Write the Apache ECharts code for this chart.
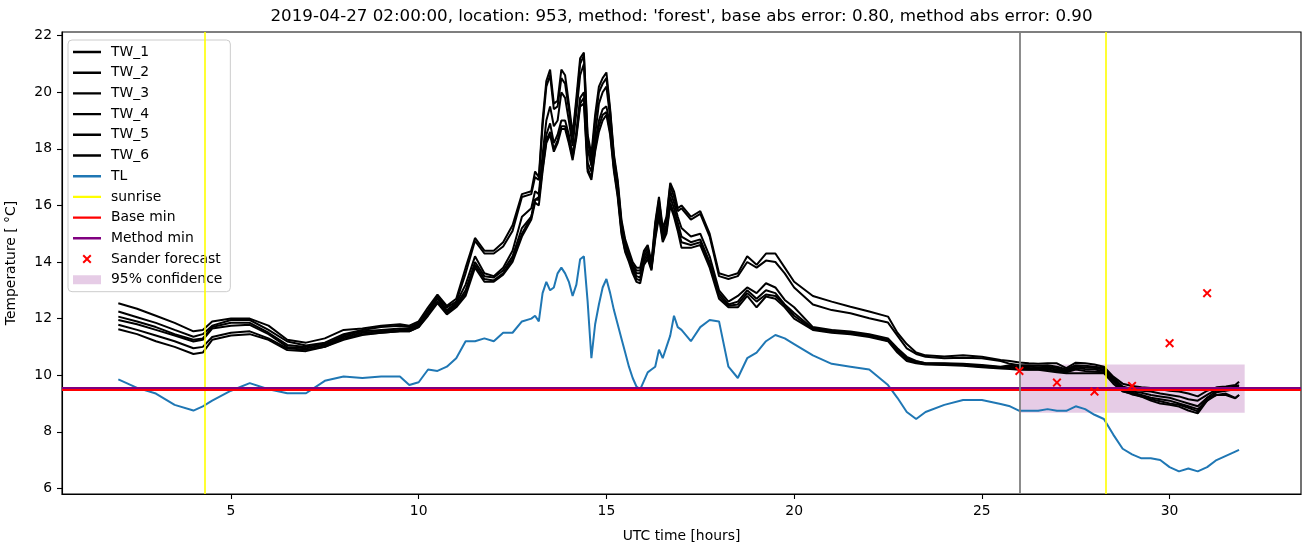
<!DOCTYPE html>
<html><head><meta charset="utf-8">
<script src="https://cdn.jsdelivr.net/npm/echarts@6/dist/echarts.min.js"></script>
<style>html,body{margin:0;padding:0;background:#fff}#c{width:1311px;height:547px}</style>
</head><body><div id="c"></div>
<script>
// ---- data ----
const hours = [
  2,2.5,3,3.5,4,4.25,4.5,5,5.5,6,6.5,7,7.5,8,8.5,9,9.5,
  9.75,10,10.25,10.5,10.75,11,11.25,11.5,11.75,12,12.25,12.5,12.75,
  13.0,13.1,13.2,13.3,13.4,13.5,13.6,13.7,13.8,13.9,14.0,14.1,14.2,14.3,14.4,14.5,14.6,14.7,14.8,14.9,
  15.0,15.1,15.2,15.3,15.4,15.5,15.6,15.7,15.8,15.9,16.0,16.1,16.2,16.3,16.4,16.5,16.6,16.7,16.8,16.9,
  17.0,17.25,17.5,17.75,18.0,18.25,18.5,18.75,19.0,19.25,19.5,19.75,20.0,
  20.5,21,21.5,22,22.5,
  22.75,23,23.25,23.5,
  24,24.5,25,25.5,
  25.75,26,26.25,26.5,26.75,27,27.25,27.5,27.75,28,28.25,28.5,28.75,29,29.25,29.5,29.75,30,30.25,30.5,30.75,31,31.25,31.5,31.75,
  31.85
];
const TL = [
  9.85,9.55,9.35,8.95,8.75,8.9,9.1,9.45,9.72,9.5,9.36,9.36,9.8,9.95,9.9,9.95,9.95,
  9.65,9.75,10.2,10.15,10.3,10.6,11.2,11.2,11.3,11.2,11.5,11.5,11.9,
  12.0,12.1,11.9,12.9,13.3,13.0,13.1,13.6,13.8,13.6,13.3,12.8,13.2,14.1,14.2,12.6,10.6,11.8,12.5,13.1,
  13.4,12.9,12.3,11.8,11.3,10.8,10.3,9.9,9.6,9.5,9.8,10.1,10.2,10.3,10.9,10.6,11.0,11.4,12.1,11.7,
  11.6,11.2,11.7,11.95,11.9,10.3,9.9,10.6,10.8,11.2,11.42,11.3,11.1,
  10.7,10.4,10.3,10.2,9.65,
  9.2,8.7,8.45,8.7,
  8.95,9.12,9.12,8.98,
  8.9,8.74,8.74,8.74,8.8,8.74,8.74,8.9,8.8,8.6,8.45,7.9,7.4,7.2,7.06,7.06,7.0,6.75,6.6,6.7,6.6,6.75,7.0,7.15,7.3,
  7.36
];
const TW_1 = [
  12.54,12.35,12.1,11.85,11.55,11.6,11.9,12.0,12.0,11.75,11.25,11.15,11.3,11.6,11.65,11.75,11.8,
  11.75,11.9,12.4,12.85,12.45,12.7,13.8,14.85,14.4,14.4,14.7,15.3,16.4,
  16.5,17.2,17.0,19.0,20.4,20.8,19.6,19.7,20.8,20.6,19.6,18.5,19.8,21.2,21.4,18.5,17.8,19.2,20.2,20.5,
  20.7,19.4,17.8,16.9,15.5,14.8,14.4,14.0,13.8,13.8,14.4,14.6,14.0,15.4,16.3,15.2,15.6,16.8,16.5,15.9,
  16.0,15.6,15.8,15.0,13.6,13.5,13.6,14.2,13.9,14.3,14.3,13.8,13.3,
  12.8,12.6,12.42,12.25,12.07,
  11.5,11.1,10.8,10.7,
  10.66,10.7,10.65,10.54,
  10.5,10.45,10.42,10.4,10.42,10.42,10.25,10.44,10.42,10.38,10.3,9.95,9.7,9.62,9.57,9.55,9.5,9.45,9.42,9.35,9.25,9.45,9.57,9.6,9.65,
  9.77
];
const TW_2 = [
  12.25,12.05,11.85,11.6,11.36,11.45,11.75,11.95,11.95,11.6,11.19,11.05,11.15,11.45,11.6,11.7,11.75,
  11.7,11.85,12.3,12.8,12.4,12.6,13.6,14.75,14.3,14.3,14.55,15.1,16.3,
  16.4,17.0,16.9,18.8,20.2,20.6,19.4,19.5,20.5,20.3,19.4,18.4,19.6,21.0,21.3,18.3,17.6,19.0,20.0,20.3,
  20.5,19.3,17.7,16.8,15.4,14.7,14.3,13.9,13.7,13.7,14.3,14.5,13.9,15.3,16.2,15.1,15.5,16.7,16.3,15.8,
  15.9,15.5,15.7,14.9,13.5,13.4,13.5,14.0,13.8,14.05,14.0,13.6,13.1,
  12.5,12.3,12.19,12.01,11.86,
  11.4,10.95,10.75,10.65,
  10.6,10.62,10.6,10.5,
  10.4,10.35,10.35,10.33,10.35,10.3,10.2,10.35,10.33,10.3,10.25,9.9,9.6,9.5,9.45,9.42,9.35,9.3,9.25,9.15,9.1,9.3,9.5,9.55,9.6,
  9.65
];
const TW_3 = [
  12.07,11.9,11.7,11.45,11.25,11.3,11.7,11.85,11.85,11.5,11.07,11.0,11.1,11.4,11.55,11.6,11.65,
  11.65,11.8,12.25,12.75,12.3,12.55,13.2,14.2,13.6,13.5,13.8,14.4,15.6,
  15.9,16.5,16.4,17.8,19.0,19.5,18.8,19.0,20.0,19.8,19.0,18.1,19.3,20.6,21.0,18.0,17.4,18.5,19.6,20.0,
  20.2,19.1,17.6,16.6,15.3,14.6,14.25,13.85,13.6,13.6,14.2,14.4,13.85,15.1,16.0,15.0,15.3,16.5,16.1,15.6,
  15.2,14.9,15.0,14.2,13.0,12.6,12.8,13.1,12.9,13.25,13.1,12.66,12.4,
  11.7,11.6,11.54,11.45,11.3,
  10.95,10.65,10.5,10.42,
  10.42,10.4,10.36,10.3,
  10.35,10.3,10.3,10.28,10.3,10.25,10.15,10.3,10.28,10.25,10.2,9.85,9.55,9.42,9.38,9.3,9.25,9.2,9.1,9.0,8.9,9.2,9.45,9.5,9.55,
  9.6
];
const TW_4 = [
  11.95,11.8,11.6,11.4,11.19,11.25,11.65,11.75,11.78,11.45,11.0,10.95,11.05,11.35,11.5,11.55,11.6,
  11.6,11.75,12.2,12.7,12.25,12.5,13.0,14.0,13.5,13.45,13.7,14.2,15.2,
  15.6,16.2,16.3,17.5,18.5,18.9,18.2,18.5,19.0,19.0,18.5,17.8,18.6,19.8,20.0,17.5,17.2,18.2,19.0,19.4,
  19.5,18.8,17.4,16.5,15.2,14.5,14.2,13.8,13.5,13.45,14.1,14.3,13.8,15.0,15.9,14.9,15.2,16.3,15.9,15.4,
  14.9,14.7,14.8,14.0,12.9,12.5,12.6,13.0,12.7,13.0,12.9,12.5,12.2,
  11.65,11.58,11.5,11.4,11.25,
  10.9,10.6,10.48,10.42,
  10.4,10.38,10.33,10.28,
  10.3,10.25,10.25,10.22,10.25,10.2,10.12,10.25,10.22,10.2,10.15,9.8,9.5,9.38,9.3,9.2,9.15,9.1,9.0,8.9,8.8,9.1,9.4,9.45,9.5,
  9.55
];
const TW_5 = [
  11.78,11.6,11.4,11.2,10.95,11.0,11.35,11.5,11.55,11.3,10.95,10.9,11.0,11.3,11.45,11.5,11.55,
  11.55,11.7,12.15,12.6,12.2,12.45,12.9,13.9,13.4,13.35,13.6,14.1,15.0,
  15.6,16.2,16.2,17.3,18.3,18.6,18.0,18.3,18.8,18.8,18.3,17.7,18.5,19.6,19.8,17.3,17.0,18.0,18.8,19.2,
  19.3,18.6,17.3,16.4,15.1,14.4,14.1,13.7,13.4,13.35,14.0,14.2,13.75,14.9,15.7,14.8,15.1,16.1,15.7,15.2,
  14.7,14.6,14.7,13.9,12.8,12.45,12.5,12.9,12.6,12.85,12.8,12.48,12.1,
  11.62,11.55,11.48,11.38,11.22,
  10.85,10.55,10.45,10.4,
  10.38,10.36,10.3,10.26,
  10.27,10.22,10.2,10.2,10.2,10.15,10.1,10.2,10.15,10.12,10.1,9.78,9.45,9.32,9.25,9.15,9.08,9.0,8.95,8.85,8.72,9.2,9.3,9.35,9.2,
  9.3
];
const TW_6 = [
  11.62,11.45,11.2,11.0,10.75,10.8,11.25,11.4,11.45,11.25,10.89,10.85,11.0,11.25,11.42,11.5,11.55,
  11.55,11.7,12.1,12.55,12.15,12.4,12.8,13.8,13.3,13.3,13.55,14.0,14.9,
  15.5,16.1,16.0,17.2,18.2,18.5,17.9,18.2,18.7,18.7,18.2,17.6,18.4,19.5,19.6,17.2,16.9,17.9,18.6,19.0,
  19.2,18.5,17.2,16.3,15.0,14.35,14.0,13.6,13.3,13.25,13.9,14.1,13.7,14.8,15.6,14.7,15.0,16.0,15.6,15.1,
  14.5,14.5,14.6,13.8,12.7,12.4,12.4,12.8,12.4,12.78,12.7,12.4,12.0,
  11.6,11.5,11.45,11.35,11.2,
  10.8,10.5,10.42,10.38,
  10.36,10.33,10.28,10.24,
  10.22,10.19,10.19,10.19,10.15,10.1,10.07,10.07,10.07,10.07,10.07,9.7,9.42,9.35,9.24,9.1,9.0,8.95,8.89,8.75,8.65,9.1,9.3,9.3,9.18,
  9.3
];
const sunriseHours = [4.31, 28.3];
const forecastStart = 26;
const baseMin = 9.47;
const methodMin = 9.54;
const sanderHours = [26, 27, 28, 29, 30, 31];
const sanderValues = [10.15, 9.74, 9.42, 9.62, 11.13, 12.9];
const confStart = 26, confEnd = 32, confLow = 8.67, confHigh = 10.38;
const xTicks = [5, 10, 15, 20, 25, 30];
const yTicks = [6, 8, 10, 12, 14, 16, 18, 20, 22];
const twNames = ['TW_1','TW_2','TW_3','TW_4','TW_5','TW_6'];
const twSeries = [TW_1, TW_2, TW_3, TW_4, TW_5, TW_6];

// ---- chart ----
const FONT = 'DejaVu Sans';
const pair = arr => hours.map((h, i) => [h, arr[i]]);
const BOX = 'M0,0L0.01,0L0,0.01Z M28,14L27.99,14L28,13.99Z ';
const xIcon = 'path://M0,0L0.01,0L0,0.01Z M14,14L13.99,14L14,13.99Z M2.5,3.9L3.9,2.5L7,5.6L10.1,2.5L11.5,3.9L8.4,7L11.5,10.1L10.1,11.5L7,8.4L3.9,11.5L2.5,10.1L5.6,7Z';
const xLegIcon = 'path://' + BOX + 'M9.5,3.9L10.9,2.5L14,5.6L17.1,2.5L18.5,3.9L15.4,7L18.5,10.1L17.1,11.5L14,8.4L10.9,11.5L9.5,10.1L12.6,7Z';
const rectIcon = 'path://' + BOX + 'M0,2.5L28,2.5L28,11.5L0,11.5Z';
const lineIcon = 'path://' + BOX + 'M0,5.8L28,5.8L28,8.2L0,8.2Z';
const noLabel = { show: false };

const series = [];
twSeries.forEach((arr, k) => series.push({
  name: twNames[k], type: 'line', data: pair(arr), symbol: 'none', z: 3,
  lineStyle: { color: '#000', width: 2 }, itemStyle: { color: '#000' }, animation: false
}));
series.push({ name: 'TL', type: 'line', data: pair(TL), symbol: 'none', z: 3,
  lineStyle: { color: '#1f77b4', width: 2 }, itemStyle: { color: '#1f77b4' }, animation: false });
series.push({ name: 'sunrise', type: 'line', data: [], symbol: 'none', z: 4,
  lineStyle: { color: '#ffff00', width: 1.6 }, itemStyle: { color: '#ffff00' },
  markLine: { silent: true, symbol: ['none','none'], label: noLabel, animation: false,
    lineStyle: { color: '#ffff00', width: 1.6, type: 'solid' },
    data: sunriseHours.map(h => ({ xAxis: h })) } });
series.push({ name: 'Base min', type: 'line', data: [], symbol: 'none', z: 4,
  lineStyle: { color: '#ff0000', width: 2 }, itemStyle: { color: '#ff0000' },
  markLine: { silent: true, symbol: ['none','none'], label: noLabel, animation: false,
    lineStyle: { color: '#ff0000', width: 2, type: 'solid' }, data: [{ yAxis: baseMin }] } });
series.push({ name: 'Method min', type: 'line', data: [], symbol: 'none', z: 4,
  lineStyle: { color: '#800080', width: 2 }, itemStyle: { color: '#800080' },
  markLine: { silent: true, symbol: ['none','none'], label: noLabel, animation: false,
    lineStyle: { color: '#800080', width: 2, type: 'solid' }, data: [{ yAxis: methodMin }] } });
series.push({ name: 'now', type: 'line', data: [], symbol: 'none', z: 4,
  markLine: { silent: true, symbol: ['none','none'], label: noLabel, animation: false,
    lineStyle: { color: '#808080', width: 1.8, type: 'solid' }, data: [{ xAxis: forecastStart }] } });
series.push({ name: 'Sander forecast', type: 'scatter', z: 5,
  data: sanderHours.map((h, i) => [h, sanderValues[i]]),
  symbol: xIcon, symbolSize: 14, itemStyle: { color: '#ff0000', opacity: 1 }, animation: false });
series.push({ name: '95% confidence', type: 'line', data: [], symbol: 'none', z: 1,
  itemStyle: { color: 'rgba(128,0,128,0.2)' }, lineStyle: { color: 'rgba(128,0,128,0.2)' },
  markArea: { silent: true, animation: false, itemStyle: { color: 'rgba(128,0,128,0.2)' }, label: noLabel,
    data: [[{ coord: [confStart, confHigh] }, { coord: [confEnd, confLow] }]] } });

const chart = echarts.init(document.getElementById('c'), null, { renderer: 'canvas' });
chart.setOption({
  animation: false,
  backgroundColor: '#fff',
  textStyle: { fontFamily: FONT },
  grid: { left: 62, right: 10, top: 32, bottom: 53, outerBoundsMode: 'none', containLabel: false,
    show: true, borderColor: '#000', borderWidth: 1.1, backgroundColor: 'transparent' },
  xAxis: {
    type: 'value', min: 0.5, max: 33.5,
    name: 'UTC time [hours]', nameLocation: 'middle', nameGap: 35,
    nameTextStyle: { fontFamily: FONT, fontSize: 13.9, color: '#000' },
    axisLine: { show: true, onZero: false, lineStyle: { color: '#000', width: 1.1 } },
    axisTick: { show: true, length: 5, customValues: xTicks, lineStyle: { color: '#000', width: 1.1 } },
    axisLabel: { customValues: xTicks, margin: 10, fontFamily: FONT, fontSize: 13.9, color: '#000' },
    splitLine: { show: false }
  },
  yAxis: {
    type: 'value', min: 5.8, max: 22.13,
    name: 'Temperature [ °C]', nameLocation: 'middle', nameGap: 44, nameRotate: 90,
    nameTextStyle: { fontFamily: FONT, fontSize: 13.9, color: '#000' },
    axisLine: { show: true, onZero: false, lineStyle: { color: '#000', width: 1.1 } },
    axisTick: { show: true, length: 5, customValues: yTicks, lineStyle: { color: '#000', width: 1.1 } },
    axisLabel: { customValues: yTicks, margin: 10, fontFamily: FONT, fontSize: 13.9, color: '#000' },
    splitLine: { show: false }
  },
  legend: {
    orient: 'vertical', left: 68, top: 40,
    itemWidth: 28, itemHeight: 14, itemGap: 6.7,
    padding: [5, 8, 5, 5],
    backgroundColor: 'rgba(255,255,255,0.8)', borderColor: '#cccccc', borderWidth: 1, borderRadius: 4,
    textStyle: { fontFamily: FONT, fontSize: 13.9, color: '#000', padding: [0, 0, 0, 5] },
    selectedMode: false,
    data: twNames.concat(['TL', 'sunrise', 'Base min', 'Method min']).map(n => ({ name: n, icon: lineIcon }))
      .concat([{ name: 'Sander forecast', icon: xLegIcon }, { name: '95% confidence', icon: rectIcon }])
  },
  graphic: [{
    type: 'text', x: 681.5, y: 17,
    style: { text: "2019-04-27 02:00:00, location: 953, method: 'forest', base abs error: 0.80, method abs error: 0.90",
      font: '16.7px "DejaVu Sans"', fill: '#000', textAlign: 'center', textVerticalAlign: 'middle' }
  }],
  series: series
});
</script>
</body></html>
